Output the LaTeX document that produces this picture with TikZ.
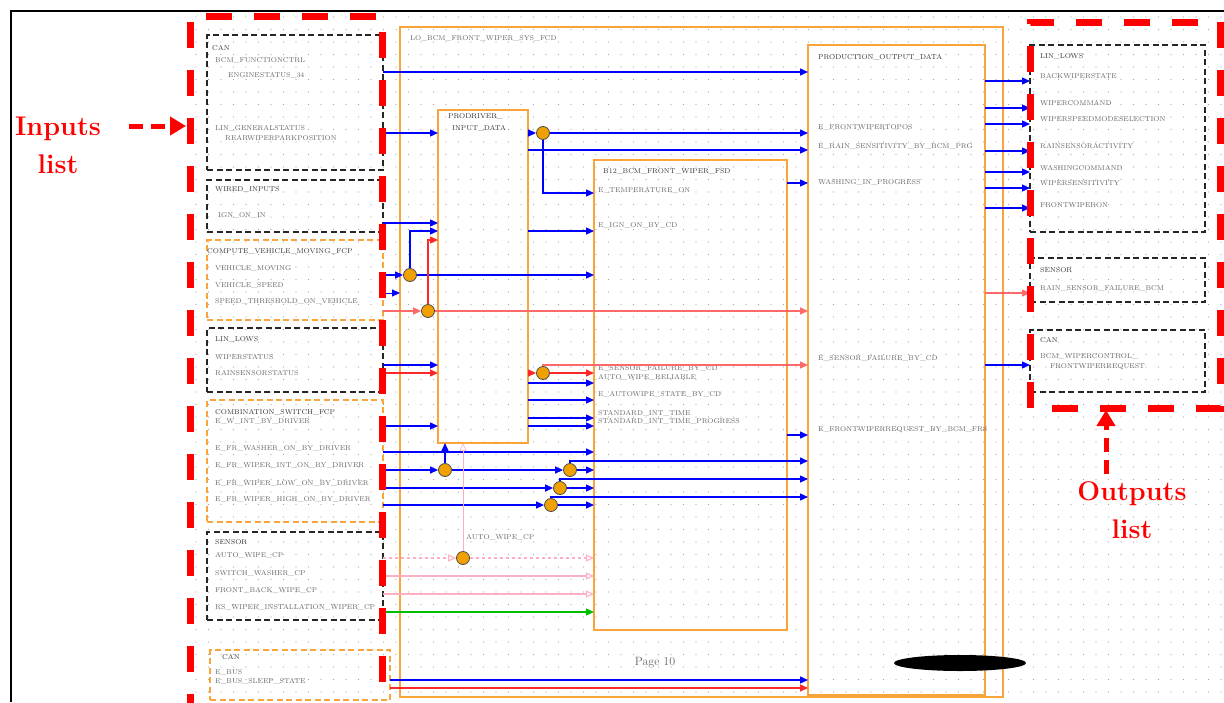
\documentclass[tikz,border=0pt]{standalone}
\usepackage{tikz}
\usetikzlibrary{arrows.meta}
\definecolor{boxorange}{RGB}{250,165,60}
\definecolor{jnorange}{RGB}{240,160,0}
\definecolor{sigpink}{RGB}{255,175,195}
\definecolor{sigred}{RGB}{255,40,40}

\begin{document}
\begin{tikzpicture}[x=1pt,y=-1pt,
  lbl/.style={anchor=west,inner sep=0,font=\fontsize{7}{8}\selectfont,text=black!60},
  ttl/.style={anchor=west,inner sep=0,font=\fontsize{7}{8}\selectfont,text=black!80},
  inbox/.style={draw=black!85,dash pattern=on 6pt off 3.5pt,line width=1.4pt,anchor=north west,inner sep=0,outer sep=0},
  orbox/.style={draw=boxorange,dash pattern=on 6pt off 3.5pt,line width=1.4pt,anchor=north west,inner sep=0,outer sep=0},
  blkbox/.style={draw=boxorange,line width=1.3pt,anchor=north west,inner sep=0,outer sep=0},
  sb/.style={blue,line width=1.3pt,-{Triangle[length=8pt,width=7pt]}},
  sr/.style={sigred,line width=1.3pt,-{Triangle[length=8pt,width=7pt]}},
  sp/.style={sigpink,line width=1.1pt,-{Triangle[length=8pt,width=7pt,open]}},
  sg/.style={green!75!black,line width=1.3pt,-{Triangle[length=8pt,width=7pt]}},
  jn/.style={circle,draw=black!70,fill=jnorange,minimum size=13pt,inner sep=0,line width=0.8pt},
  redframe/.style={red,line width=7pt,dash pattern=on 26pt off 22pt},
  big/.style={red,font=\bfseries\fontsize{27}{38}\selectfont,align=center}]

\useasboundingbox (0,0) rectangle (1224,702);
\fill[white] (0,0) rectangle (1224,702);

% dot grid
\foreach \y in {17,29.5,...,702}
{
\draw[black!35,line width=1.3pt,line cap=round,dash pattern=on 0pt off 12.5pt] (196,\y) -- (1224,\y);
}
\draw[line width=2pt] (11,702) -- (11,11) -- (1224,11);

% input boxes
\node[inbox,minimum width=176pt,minimum height=135pt] (inCAN) at (207,35) {};
\node[inbox,minimum width=176pt,minimum height=52pt] (inWIRED) at (207,180) {};
\node[orbox,minimum width=176pt,minimum height=80pt] (inVEH) at (207,240) {};
\node[inbox,minimum width=176pt,minimum height=64pt] (inLIN) at (207,328) {};
\node[orbox,minimum width=176pt,minimum height=122pt] (inCOMB) at (207,400) {};
\node[inbox,minimum width=176pt,minimum height=88pt] (inSENS) at (207,532) {};
\node[orbox,minimum width=180pt,minimum height=50pt] (inCANB) at (210,650) {};

\node[ttl] at (212,48) {CAN};
\node[lbl] at (215,61) {BCM\_FUNCTIONCTRL};
\node[lbl] at (228,75) {ENGINESTATUS\_34};
\node[lbl] at (215,128) {LIN\_GENERALSTATUS};
\node[lbl] at (225,138) {REARWIPERPARKPOSITION};
\node[ttl] at (215,190) {WIRED\_INPUTS};
\node[lbl] at (218,216) {IGN\_ON\_IN};
\node[ttl] at (207,252) {COMPUTE\_VEHICLE\_MOVING\_FCP};
\node[lbl] at (215,269) {VEHICLE\_MOVING};
\node[lbl] at (215,286) {VEHICLE\_SPEED};
\node[lbl] at (215,302) {SPEED\_THRESHOLD\_ON\_VEHICLE};
\node[ttl] at (215,340) {LIN\_LOWS};
\node[lbl] at (215,357) {WIPERSTATUS};
\node[lbl] at (215,373) {RAINSENSORSTATUS};
\node[ttl] at (215,412) {COMBINATION\_SWITCH\_FCP};
\node[lbl] at (215,422) {E\_W\_INT\_BY\_DRIVER};
\node[lbl] at (215,448) {E\_FR\_WASHER\_ON\_BY\_DRIVER};
\node[lbl] at (215,466) {E\_FR\_WIPER\_INT\_ON\_BY\_DRIVER};
\node[lbl] at (215,484) {E\_FR\_WIPER\_LOW\_ON\_BY\_DRIVER};
\node[lbl] at (215,500) {E\_FR\_WIPER\_HIGH\_ON\_BY\_DRIVER};
\node[ttl] at (215,542) {SENSOR};
\node[lbl] at (215,555) {AUTO\_WIPE\_CP};
\node[lbl] at (215,573) {SWITCH\_WASHER\_CP};
\node[lbl] at (215,590) {FRONT\_BACK\_WIPE\_CP};
\node[lbl] at (215,607) {RS\_WIPER\_INSTALLATION\_WIPER\_CP};
\node[ttl] at (222,657) {CAN};
\node[lbl] at (215,673) {E\_BUS};
\node[lbl] at (215,681) {E\_BUS\_SLEEP\_STATE};

% function blocks
\node[blkbox,minimum width=603pt,minimum height=670pt] (sys) at (400,27) {};
\node[blkbox,minimum width=90pt,minimum height=333pt] (prodIn) at (438,110) {};
\node[blkbox,minimum width=193pt,minimum height=470pt] (fsd) at (594,160) {};
\node[blkbox,minimum width=177pt,minimum height=650pt] (prodOut) at (808,45) {};

\node[lbl] at (410,39) {LO\_BCM\_FRONT\_WIPER\_SYS\_FCD};
\node[ttl] at (448,117) {PRODRIVER\_};
\node[ttl] at (452,128) {INPUT\_DATA};
\node[ttl] at (603,172) {B12\_BCM\_FRONT\_WIPER\_FSD};
\node[lbl] at (598,190) {E\_TEMPERATURE\_ON};
\node[lbl] at (598,226) {E\_IGN\_ON\_BY\_CD};
\node[lbl] at (598,368) {E\_SENSOR\_FAILURE\_BY\_CD};
\node[lbl] at (598,377) {AUTO\_WIPE\_RELIABLE};
\node[lbl] at (598,394) {E\_AUTOWIPE\_STATE\_BY\_CD};
\node[lbl] at (598,413) {STANDARD\_INT\_TIME};
\node[lbl] at (598,421) {STANDARD\_INT\_TIME\_PROGRESS};
\node[ttl] at (818,57) {PRODUCTION\_OUTPUT\_DATA};
\node[lbl] at (818,128) {E\_FRONTWIPERTOPOS};
\node[lbl] at (818,146) {E\_RAIN\_SENSITIVITY\_BY\_BCM\_PRG};
\node[lbl] at (818,182) {WASHING\_IN\_PROGRESS};
\node[lbl] at (818,358) {E\_SENSOR\_FAILURE\_BY\_CD};
\node[lbl] at (818,430) {E\_FRONTWIPERREQUEST\_BY\_BCM\_FRS};
\node[lbl] at (466,537) {AUTO\_WIPE\_CP};
\node[font=\fontsize{12}{14}\selectfont,text=black!60] (page) at (655,663) {Page 10};
\fill[black] (960,663) ellipse (66 and 8);

% output boxes
\node[inbox,minimum width=175pt,minimum height=187pt] (outLIN) at (1030,45) {};
\node[inbox,minimum width=175pt,minimum height=44pt] (outSENS) at (1030,258) {};
\node[inbox,minimum width=175pt,minimum height=62pt] (outCAN) at (1030,330) {};

\node[ttl] at (1040,57) {LIN\_LOWS};
\node[lbl] at (1040,76) {BACKWIPERSTATE};
\node[lbl] at (1040,103) {WIPERCOMMAND};
\node[lbl] at (1040,119) {WIPERSPEEDMODESELECTION};
\node[lbl] at (1040,146) {RAINSENSORACTIVITY};
\node[lbl] at (1040,168) {WASHINGCOMMAND};
\node[lbl] at (1040,183) {WIPERSENSITIVITY};
\node[lbl] at (1040,205) {FRONTWIPERON};
\node[ttl] at (1040,270) {SENSOR};
\node[lbl] at (1040,288) {RAIN\_SENSOR\_FAILURE\_BCM};
\node[ttl] at (1040,340) {CAN};
\node[lbl] at (1040,357) {BCM\_WIPERCONTROL\_};
\node[lbl] at (1050,367) {FRONTWIPERREQUEST};

% junctions
\node[jn] (j1) at (543,133) {};
\node[jn] (j2) at (410,275) {};
\node[jn] (j3) at (428,311) {};
\node[jn] (j4) at (543,373) {};
\node[jn] (j5) at (445,470) {};
\node[jn] (j6) at (570,470) {};
\node[jn] (j7) at (560,488) {};
\node[jn] (j8) at (551,505) {};
\node[jn] (j9) at (463,558) {};
\coordinate (vspd) at (400,293);

% signals
\draw[sb] (inCAN.east |- 0,72) -- (prodOut.west |- 0,72);
\draw[sb] (inCAN.east |- 0,133) -- (prodIn.west |- 0,133);
\draw[sb] (prodIn.east |- j1) -- (j1.west);
\draw[sb] (j1) -- (prodOut.west |- j1);
\draw[sb] (j1) |- (fsd.west |- 0,193);
\draw[sb] (prodIn.east |- 0,150) -- (prodOut.west |- 0,150);
\draw[sb] (fsd.east |- 0,183) -- (prodOut.west |- 0,183);
\draw[sb] (inWIRED.east |- 0,223) -- (prodIn.west |- 0,223);
\draw[sb] (j2) |- (prodIn.west |- 0,231);
\draw[sb] (prodIn.east |- 0,231) -- (fsd.west |- 0,231);
\draw[sb] (inVEH.east |- j2) -- (j2);
\draw[sb] (j2) -- (fsd.west |- j2);
\draw[sb,line width=0.9pt] (inVEH.east |- vspd) -- (vspd);
\draw[sr,sigred!70] (inVEH.east |- j3) -- (j3);
\draw[sr,sigred!70] (j3) -- (prodOut.west |- j3);
\draw[sr] (j3) |- (prodIn.west |- 0,240);
\draw[sb] (inLIN.east |- 0,365) -- (prodIn.west |- 0,365);
\draw[sr] (inLIN.east |- 0,373) -- (prodIn.west |- 0,373);
\draw[sr] (prodIn.east |- j4) -- (j4.west);
\draw[sr] (j4) -- (fsd.west |- j4);
\draw[sr,sigred!70] (j4) |- (prodOut.west |- 0,365);
\foreach \y in {383,400,418,426}
{
\draw[sb] (prodIn.east |- 0,\y) -- (fsd.west |- 0,\y);
}
\draw[sb] (inCOMB.east |- 0,426) -- (prodIn.west |- 0,426);
\draw[sb] (fsd.east |- 0,435) -- (prodOut.west |- 0,435);
\draw[sb] (inCOMB.east |- 0,452) -- (fsd.west |- 0,452);
\draw[sb] (inCOMB.east |- j5) -- (j5.west);
\draw[sb] (j5) -- (prodIn.south -| j5);
\draw[sb] (j5) -- (j6.west);
\draw[sb] (j6) -- (fsd.west |- j6);
\draw[sb] (j6) |- (prodOut.west |- 0,461);
\draw[sb] (inCOMB.east |- j7) -- (j7.west);
\draw[sb] (j7) -- (fsd.west |- j7);
\draw[sb] (j7) |- (prodOut.west |- 0,479);
\draw[sb] (inCOMB.east |- j8) -- (j8.west);
\draw[sb] (j8) -- (fsd.west |- j8);
\draw[sb] (j8) |- (prodOut.west |- 0,497);
\draw[sp,dashed] (inSENS.east |- j9) -- (j9.west);
\draw[sp,dashed] (j9) -- (fsd.west |- j9);
\draw[sp,line width=0.6pt] (j9) -- (prodIn.south -| j9);
\draw[sp] (inSENS.east |- 0,576) -- (fsd.west |- 0,576);
\draw[sp] (inSENS.east |- 0,594) -- (fsd.west |- 0,594);
\draw[sg] (inSENS.east |- 0,612) -- (fsd.west |- 0,612);
\draw[sb] (inCANB.east |- 0,680) -- (prodOut.west |- 0,680);
\draw[sr] (inCANB.east |- 0,688) -- (prodOut.west |- 0,688);

% outputs
\foreach \y in {81,108,124,151,172,188,208}
{
\draw[sb] (prodOut.east |- 0,\y) -- (outLIN.west |- 0,\y);
}
\draw[sr,sigred!70] (prodOut.east |- 0,293) -- (outSENS.west |- 0,293);
\draw[sb] (prodOut.east |- 0,365) -- (outCAN.west |- 0,365);

% red marking frames
\draw[redframe] (190,720) -- (190,16) -- (382,16) -- (382,720);
\draw[redframe] (1030,408) -- (1030,22) -- (1220,22) -- (1220,408) -- cycle;

\node[big] (inlist) at (58,145) {Inputs\\list};
\node[big] (outlist) at (1132,510) {Outputs\\list};
\coordinate (inhead) at (186,126);
\coordinate (outhead) at (1106,410);
\draw[red,line width=5pt,dash pattern=on 14pt off 8pt,-{Triangle[length=16pt,width=18pt]}] (inlist.north east |- inhead) ++(25,0) -- (inhead);
\draw[red,line width=5pt,dash pattern=on 14pt off 8pt,-{Triangle[length=16pt,width=18pt]}] (outhead |- outlist.north) ++(0,-4) -- (outhead);
\end{tikzpicture}
\end{document}
